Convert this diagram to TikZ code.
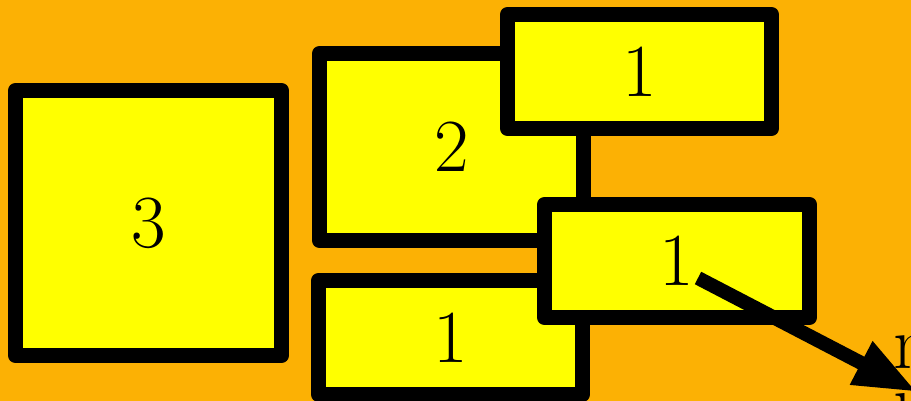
\documentclass[tikz,border=0pt]{standalone}
\usepackage{fontspec}
\usetikzlibrary{arrows.meta}
\definecolor{backdrop}{HTML}{FCB104}
\definecolor{cellfill}{HTML}{FFFF00}
\definecolor{ink}{HTML}{000000}

\begin{document}
\begin{tikzpicture}[
  x=1pt, y=-1pt,
  cell/.style={rectangle, draw=ink, fill=cellfill, line width=15pt, line join=round,
    inner sep=0pt, font=\fontsize{75pt}{78pt}\selectfont},
  tag/.style={inner sep=0pt, text=ink, font=\fontsize{75pt}{78pt}\selectfont},
  pointer/.style={draw=ink, line width=14pt, -{Triangle[length=63pt, width=45pt]}}
]
\useasboundingbox (0,0) rectangle (911,401);
\clip (0,0) rectangle (911,401);
\fill[backdrop] (0,0) rectangle (911,401);

\node[cell, minimum width=266pt, minimum height=265pt] (c3) at (148.5,223) {3};
\node[cell, minimum width=264pt, minimum height=187pt] (c2) at (451.5,147) {2};
\node[cell, minimum width=264pt, minimum height=114pt] (c1low) at (450.5,337.5) {1};
\node[cell, minimum width=264pt, minimum height=114pt] (c1top) at (639.5,71.5) {1};
\node[cell, minimum width=265pt, minimum height=113pt] (c1mid) at (677,261) {1};

\node[tag, anchor=base west] (t1) at (893,368) {n};
\node[tag, anchor=base west] (t2) at (893,445) {l};

\coordinate (tail) at (698,278);
\coordinate (tip) at (917,392);
\draw[pointer] (tail) -- (tip);
\end{tikzpicture}
\end{document}
